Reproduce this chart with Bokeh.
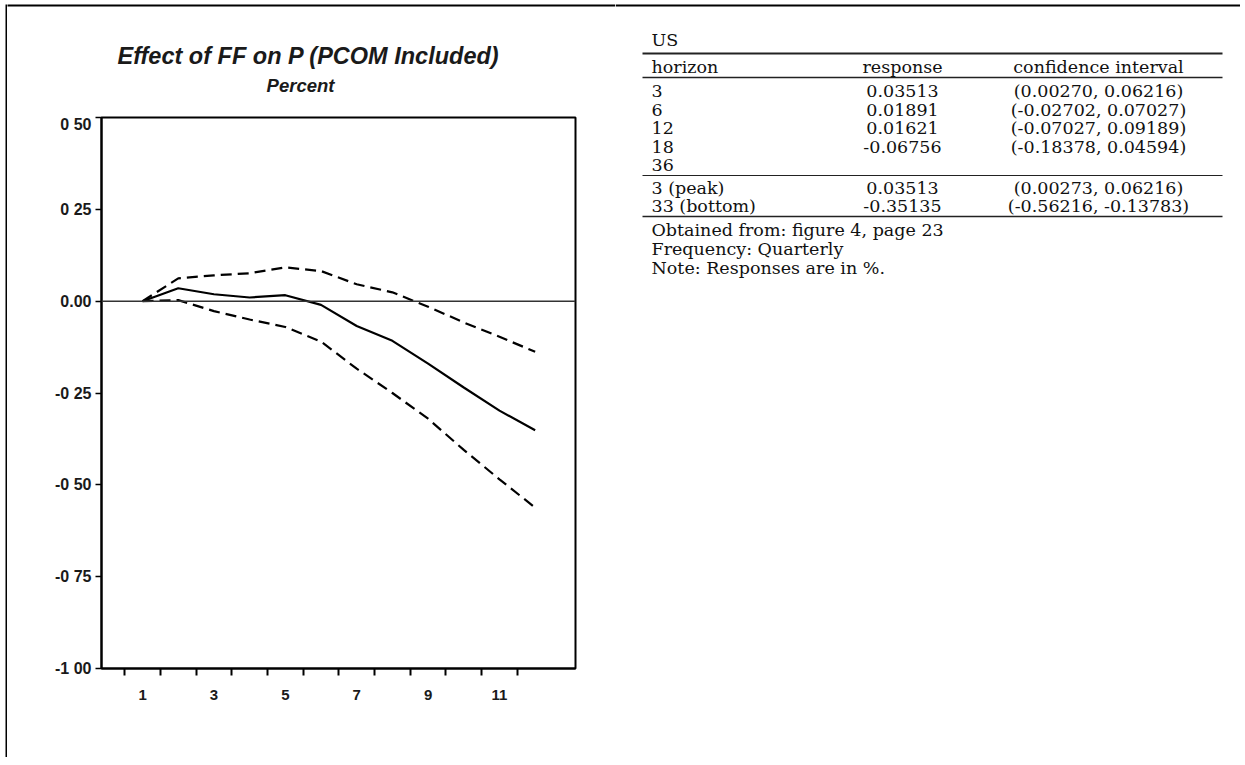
from bokeh.plotting import figure
from bokeh.models import Range1d, FixedTicker, Span, ColumnDataSource
from bokeh.layouts import row, column
from bokeh.embed import file_html
from bokeh.resources import INLINE
from bokeh.core.properties import value

# ---------------- data ----------------
quarter = [1, 2, 3, 4, 5, 6, 7, 8, 9, 10, 11, 12]
response = [0.0, 0.03513, 0.01891, 0.010, 0.01621, -0.010, -0.06756, -0.108, -0.170, -0.235, -0.298, -0.35135]
upper_band = [0.0, 0.06216, 0.07027, 0.076, 0.09189, 0.082, 0.04594, 0.024, -0.015, -0.058, -0.097, -0.13783]
lower_band = [0.0, 0.00273, -0.02702, -0.050, -0.07027, -0.110, -0.18378, -0.250, -0.320, -0.405, -0.485, -0.56216]

y_ticks = [0.5, 0.25, 0.0, -0.25, -0.5, -0.75, -1.0]
y_tick_labels = ["0 50", "0 25", "0.00", "-0 25", "-0 50", "-0 75", "-1 00"]
x_label_ticks = [1, 3, 5, 7, 9, 11]
x_mark_ticks = [0.5, 1.5, 2.5, 3.5, 4.5, 5.5, 6.5, 7.5, 8.5, 9.5, 10.5, 11.5]

chart_title = "Effect of FF on P (PCOM Included)"
chart_subtitle = "Percent"

table_country = "US"
table_header = ["horizon", "response", "confidence interval"]
table_horizons = ["3", "6", "12", "18", "36"]
table_responses = ["0.03513", "0.01891", "0.01621", "-0.06756", ""]
table_cis = ["(0.00270, 0.06216)", "(-0.02702, 0.07027)", "(-0.07027, 0.09189)", "(-0.18378, 0.04594)", ""]
extreme_labels = ["3 (peak)", "33 (bottom)"]
extreme_responses = ["0.03513", "-0.35135"]
extreme_cis = ["(0.00273, 0.06216)", "(-0.56216, -0.13783)"]
notes = ["Obtained from: figure 4, page 23", "Frequency: Quarterly", "Note: Responses are in %."]

SANS = "Liberation Sans"
SERIF = "DejaVu Serif"
INK = "#111111"


def blank_fig(width, height, xr, yr, fill="white"):
    f = figure(width=width, height=height, x_range=Range1d(*xr), y_range=Range1d(*yr),
               output_backend="svg", toolbar_location=None,
               x_axis_type=None, y_axis_type=None,
               min_border=0, min_border_left=0, min_border_right=0,
               min_border_top=0, min_border_bottom=0)
    f.outline_line_color = None
    f.background_fill_color = fill
    f.border_fill_color = fill
    f.grid.visible = False
    return f


# left edge of the outer page frame
left_pad = blank_fig(5, 757, (0, 1), (0, 1))
left_bar = blank_fig(2, 753, (0, 1), (0, 1), fill="black")
left_col = column(blank_fig(2, 4, (0, 1), (0, 1)), left_bar)

# ---------------- title area ----------------
tf = blank_fig(608, 115, (7, 615), (115, 0))

# ---------------- chart ----------------
p = figure(width=608, height=642, x_range=Range1d(-0.15, 13.13), y_range=Range1d(-1.0, 0.5),
           output_backend="svg", toolbar_location=None,
           min_border_left=94, min_border_right=40, min_border_top=2, min_border_bottom=89)

try:
    tf.frame_align = False
    p.frame_align = False
except Exception:
    tf.x_range = Range1d(101, 575)

tf.segment(x0=[5], y0=[5], x1=[615], y1=[5], line_color="black", line_width=2)
tf.text(x=[308], y=[55], text=[chart_title], text_font=value(SANS), text_font_size="23.5px",
        text_font_style="bold italic", text_color="#1a1a1a", text_align="center", text_baseline="middle")
tf.text(x=[300], y=[85], text=[chart_subtitle], text_font=value(SANS), text_font_size="18.5px",
        text_font_style="bold italic", text_color="#1a1a1a", text_align="center", text_baseline="middle")

p.grid.visible = False
p.outline_line_color = "black"
p.outline_line_width = 2
p.background_fill_color = "white"
p.border_fill_color = "white"

src = ColumnDataSource(dict(q=quarter, r=response, u=upper_band, l=lower_band))
p.line("q", "u", source=src, line_color="black", line_width=2.2, line_dash="11 6")
p.line("q", "l", source=src, line_color="black", line_width=2.2, line_dash="11 6")
p.line("q", "r", source=src, line_color="black", line_width=2.2)
p.add_layout(Span(location=0, dimension="width", line_color="#333333", line_width=1.5))

ya = p.yaxis[0]
ya.ticker = FixedTicker(ticks=y_ticks)
ya.major_label_overrides = {t: s for t, s in zip(y_ticks, y_tick_labels)}
ya.axis_line_color = "black"
ya.axis_line_width = 2
ya.major_tick_line_color = "black"
ya.major_tick_line_width = 1.5
ya.major_tick_in = 0
ya.major_tick_out = 6
ya.minor_tick_line_color = None
ya.major_label_standoff = 4
ya.major_label_text_font = SANS
ya.major_label_text_font_size = "16px"
ya.major_label_text_font_style = "bold"
ya.major_label_text_color = "#1a1a1a"

xa = p.xaxis[0]
xa.ticker = FixedTicker(ticks=x_label_ticks, minor_ticks=x_mark_ticks)
xa.axis_line_color = "black"
xa.axis_line_width = 2
xa.major_tick_line_color = None
xa.major_tick_in = 0
xa.major_tick_out = 0
xa.minor_tick_line_color = "black"
xa.minor_tick_line_width = 2
xa.minor_tick_in = 0
xa.minor_tick_out = 7
xa.major_label_standoff = 14
xa.major_label_text_font = SANS
xa.major_label_text_font_size = "15px"
xa.major_label_text_font_style = "bold"
xa.major_label_text_color = "#1a1a1a"

# ---------------- table ----------------
t = blank_fig(625, 757, (615, 1240), (757, 0))
t.segment(x0=[615], y0=[5], x1=[1240], y1=[5], line_color="black", line_width=2)
FS = "17.5px"
L0, L1 = 642, 1222
XH, XR, XC = 651, 902, 1098


def txt(x, y, s, align="left"):
    t.text(x=[x], y=[y], text=[s], text_font=value(SERIF), text_font_size=FS,
           text_color=INK, text_align=align, text_baseline="middle")


def rule(y, w):
    t.segment(x0=[L0], y0=[y], x1=[L1], y1=[y], line_color="#222222", line_width=w)


txt(XH, 39, table_country)
rule(53, 2)
txt(XH, 66, table_header[0])
txt(XR, 66, table_header[1], "center")
txt(XC, 66, table_header[2], "center")
rule(77, 1.5)
row_y = [90, 109, 127, 146, 164]
for yy, h, r, c in zip(row_y, table_horizons, table_responses, table_cis):
    txt(XH, yy, h)
    if r:
        txt(XR, yy, r, "center")
    if c:
        txt(XC, yy, c, "center")
rule(175, 1.2)
for yy, h, r, c in zip([187, 205], extreme_labels, extreme_responses, extreme_cis):
    txt(XH, yy, h)
    txt(XR, yy, r, "center")
    txt(XC, yy, c, "center")
rule(216, 1.5)
for yy, s in zip([229, 248, 267], notes):
    txt(XH, yy, s)

layout = row(left_pad, left_col, column(tf, p), t)
open("out.html", "w").write(file_html(layout, INLINE))
